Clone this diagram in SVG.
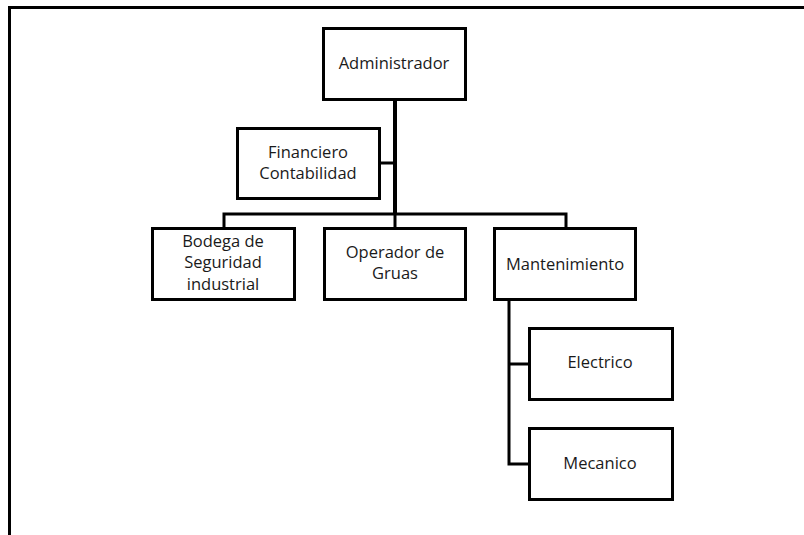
<svg xmlns="http://www.w3.org/2000/svg" width="804" height="535" viewBox="0 0 804 535">
<style>
.box{fill:#fff;stroke:#000;stroke-width:3}
.ln{fill:none;stroke:#000;stroke-width:3;stroke-linejoin:miter}
text{font-family:"Open Sans","Liberation Sans",sans-serif;font-size:16.5px;fill:#1a1a1a;text-anchor:middle;dominant-baseline:central}
</style>
<rect width="804" height="535" fill="#fff"/>
<path class="ln" d="M9.5,535 V7.5 H804"/>
<g id="connectors">
<path class="ln" style="stroke-width:4" d="M395,99 V215"/>
<path class="ln" d="M380,163 H395"/>
<path class="ln" d="M224,228 V214 H566 V228"/>
<path class="ln" d="M395,214 V228"/>
<path class="ln" d="M509,299 V464 H529"/>
<path class="ln" d="M509,364 H529"/>
</g>
<g id="n-admin"><rect class="box" x="323.5" y="28.5" width="142" height="71"/><text x="394" y="62">Administrador</text></g>
<g id="n-fin"><rect class="box" x="237.5" y="128.5" width="142" height="70"/><text x="308" y="151">Financiero</text><text x="308" y="172">Contabilidad</text></g>
<g id="n-bodega"><rect class="box" x="152.5" y="228.5" width="142" height="71"/><text x="223" y="240">Bodega de</text><text x="223" y="261">Seguridad</text><text x="223" y="283">industrial</text></g>
<g id="n-oper"><rect class="box" x="324.5" y="228.5" width="141" height="71"/><text x="395" y="251">Operador de</text><text x="395" y="272">Gruas</text></g>
<g id="n-mant"><rect class="box" x="494.5" y="228.5" width="141" height="71"/><text x="565" y="263">Mantenimiento</text></g>
<g id="n-elec"><rect class="box" x="529.5" y="328.5" width="143" height="71"/><text x="600" y="361">Electrico</text></g>
<g id="n-mec"><rect class="box" x="529.5" y="428.5" width="143" height="71"/><text x="600" y="462">Mecanico</text></g>
</svg>
